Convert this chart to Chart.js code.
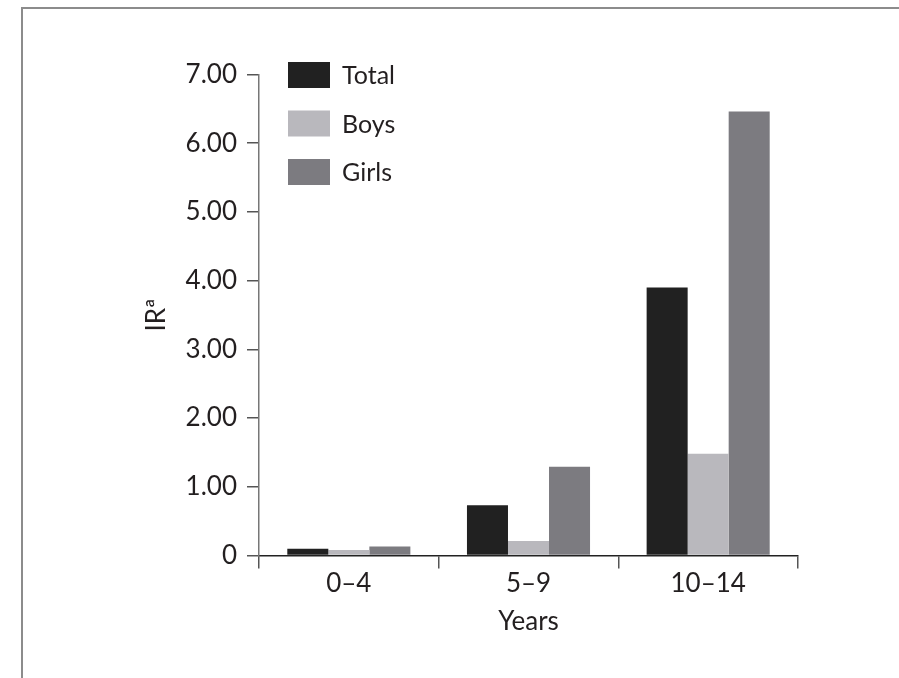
<!DOCTYPE html>
<html>
<head>
<meta charset="utf-8">
<script src="https://cdn.jsdelivr.net/npm/chart.js@4.4.1/dist/chart.umd.min.js"></script>
<style>
  html,body{margin:0;padding:0;background:#fff;}
  #wrap{position:relative;width:899px;height:678px;overflow:hidden;}
  #frame{position:absolute;left:21px;top:7px;width:900px;height:700px;border-top:2px solid #8c8c8c;border-left:2px solid #8c8c8c;}
  #wrap canvas{position:absolute;left:0;top:0;}
</style>
</head>
<body>
<div id="wrap">
  <div id="frame"></div>
  <canvas id="irChart" width="899" height="678"></canvas>
</div>
<script>
// age groups on the x axis
const categories = ['0–4', '5–9', '10–14'];
// incidence rate per group
const totalIR = [0.10, 0.73, 3.90];
const boysIR  = [0.08, 0.21, 1.48];
const girlsIR = [0.13, 1.29, 6.46];
const yTickLabels = ['0', '1.00', '2.00', '3.00', '4.00', '5.00', '6.00', '7.00'];

const FONT = 'Lato, "Open Sans", sans-serif';
const INK = '#231f20';

// legend drawn inside the plot, top-left, like the original
const boxLegend = {
  id: 'boxLegend',
  afterDraw(chart){
    const {ctx, chartArea} = chart;
    const x0 = chartArea.left + 29, y0 = chartArea.top - 12.5;
    ctx.save();
    ctx.font = '25px ' + FONT;
    ctx.textBaseline = 'middle';
    chart.data.datasets.forEach((ds, i) => {
      const y = y0 + i*48.5;
      ctx.fillStyle = ds.backgroundColor;
      ctx.fillRect(x0, y, 42, 26);
      ctx.fillStyle = INK;
      ctx.fillText(ds.label, x0 + 54, y + 14);
    });
    ctx.restore();
  }
};

new Chart(document.getElementById('irChart'), {
  type: 'bar',
  data: {
    labels: categories,
    datasets: [
      { label: 'Total', data: totalIR, backgroundColor: '#212121' },
      { label: 'Boys',  data: boysIR,  backgroundColor: '#b9b8bd' },
      { label: 'Girls', data: girlsIR, backgroundColor: '#7c7b80' }
    ]
  },
  options: {
    responsive: false,
    animation: false,
    datasets: { bar: { barPercentage: 1, categoryPercentage: 0.685, borderWidth: 0 } },
    layout: { padding: { left: 0, top: 74.5, right: 101, bottom: 0 } },
    plugins: { legend: { display: false }, tooltip: { enabled: false } },
    scales: {
      x: {
        afterFit: s => { s.height = 122.5; },
        grid: { offset: true, drawOnChartArea: false, drawTicks: true, tickLength: 13, color: '#555', lineWidth: 1.5 },
        border: { display: true, color: '#222', width: 1.5 },
        ticks: { color: INK, font: { family: FONT, size: 26 }, padding: 0 },
        title: { display: true, text: 'Years', color: INK, font: { family: FONT, size: 26 }, padding: { top: 0, bottom: 41 } }
      },
      y: {
        min: 0, max: 7,
        afterFit: s => { s.width = 259; },
        grid: { drawOnChartArea: false, drawTicks: true, tickLength: 12, color: '#555', lineWidth: 1.5 },
        border: { display: true, color: '#777', width: 1.5 },
        ticks: {
          stepSize: 1, padding: 10, color: INK,
          font: { family: FONT, size: 26 },
          callback: (v, i) => yTickLabels[i]
        },
        title: { display: true, text: 'IRª', color: INK, font: { family: FONT, size: 26 }, padding: { top: 141, bottom: 0 } }
      }
    }
  },
  plugins: [boxLegend]
});
</script>
</body>
</html>
